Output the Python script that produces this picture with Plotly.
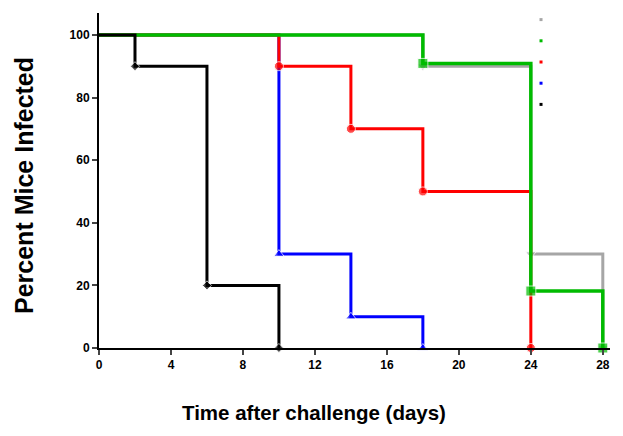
import plotly.graph_objects as go

# data
black_t = [0, 2, 6, 10]
black_p = [100, 90, 20, 0]
blue_t = [0, 10, 14, 18]
blue_p = [100, 30, 10, 0]
red_t = [0, 10, 14, 18, 24]
red_p = [100, 90, 70, 50, 0]
gray_t = [0, 18, 24, 28]
gray_p = [100, 90, 30, 0]
green_t = [0, 18, 24, 28]
green_p = [100, 90.9, 18.2, 0]

x_ticks = [0, 4, 8, 12, 16, 20, 24, 28]
y_ticks = [0, 20, 40, 60, 80, 100]

series = [
    # name, t, p, color, symbol, msize, width
    ("blue", blue_t, blue_p, "#0000ff", "triangle-up", 9, 3),
    ("gray", gray_t, gray_p, "#a6a6a6", "triangle-down", 9, 3),
    ("red", red_t, red_p, "#ff0000", "circle", 9, 3),
    ("green", green_t, green_p, "#00bb00", "square", 10, 3.5),
    ("black", black_t, black_p, "#000000", "diamond", 7, 3),
]

L, R, T, B = 99, 13, 13, 88
W, H = 623, 436
PW, PH = W - L - R, H - T - B

fig = go.Figure()
for name, t, p, color, sym, ms, w in series:
    sizes = [0] + [ms] * (len(t) - 1)
    fig.add_trace(go.Scatter(
        x=t, y=p, mode="lines+markers", line=dict(shape="hv", color=color, width=w),
        marker=dict(symbol=sym, size=sizes, color=color), showlegend=False, cliponaxis=False,
    ))

legend_order = [("gray", "#a6a6a6"), ("green", "#00bb00"), ("red", "#ff0000"),
                ("blue", "#0000ff"), ("black", "#000000")]
for i, (name, color) in enumerate(legend_order):
    fig.add_trace(go.Scatter(
        x=[None], y=[None], mode="markers", name=" ",
        marker=dict(symbol="square", size=3, color=color), showlegend=True, legendrank=i,
    ))

tickfont = dict(size=12, family="Liberation Sans, Arial, sans-serif", weight="bold")
fig.update_layout(
    width=W, height=H,
    margin=dict(l=L, r=R, t=T, b=B, autoexpand=False),
    plot_bgcolor="white", paper_bgcolor="white",
    font=dict(family="Liberation Sans, Arial, sans-serif", color="black"),
    legend=dict(x=0.82 + 3 / PW, y=1 + 9 / PH, xanchor="left", yanchor="top",
                bgcolor="rgba(0,0,0,0)", font=dict(size=14), itemwidth=30, tracegroupgap=0),
    xaxis=dict(range=[0, 28.4], tickvals=x_ticks, ticks="outside", ticklen=5, tickwidth=2,
               showline=True, linecolor="black", linewidth=2, showgrid=False, zeroline=False,
               automargin=False, tickfont=tickfont),
    yaxis=dict(range=[0, 107], tickvals=y_ticks, ticks="outside", ticklen=5, tickwidth=2,
               showline=True, linecolor="black", linewidth=2, showgrid=False, zeroline=False,
               automargin=False, tickfont=tickfont),
    annotations=[
        dict(text="<b>Time after challenge (days)</b>", xref="paper", yref="paper",
             x=(314 - L) / PW, y=-(413 - (H - B)) / PH, xanchor="center", yanchor="middle",
             showarrow=False, font=dict(size=20.5)),
        dict(text="<b>Percent Mice Infected</b>", xref="paper", yref="paper",
             x=-(L - 24) / PW, y=((H - B) - 186) / PH, textangle=-90, xanchor="center",
             yanchor="middle", showarrow=False, font=dict(size=25)),
    ],
)
fig.write_html("out.html", config={"displayModeBar": False},
               post_script="document.body.style.margin='0';")
